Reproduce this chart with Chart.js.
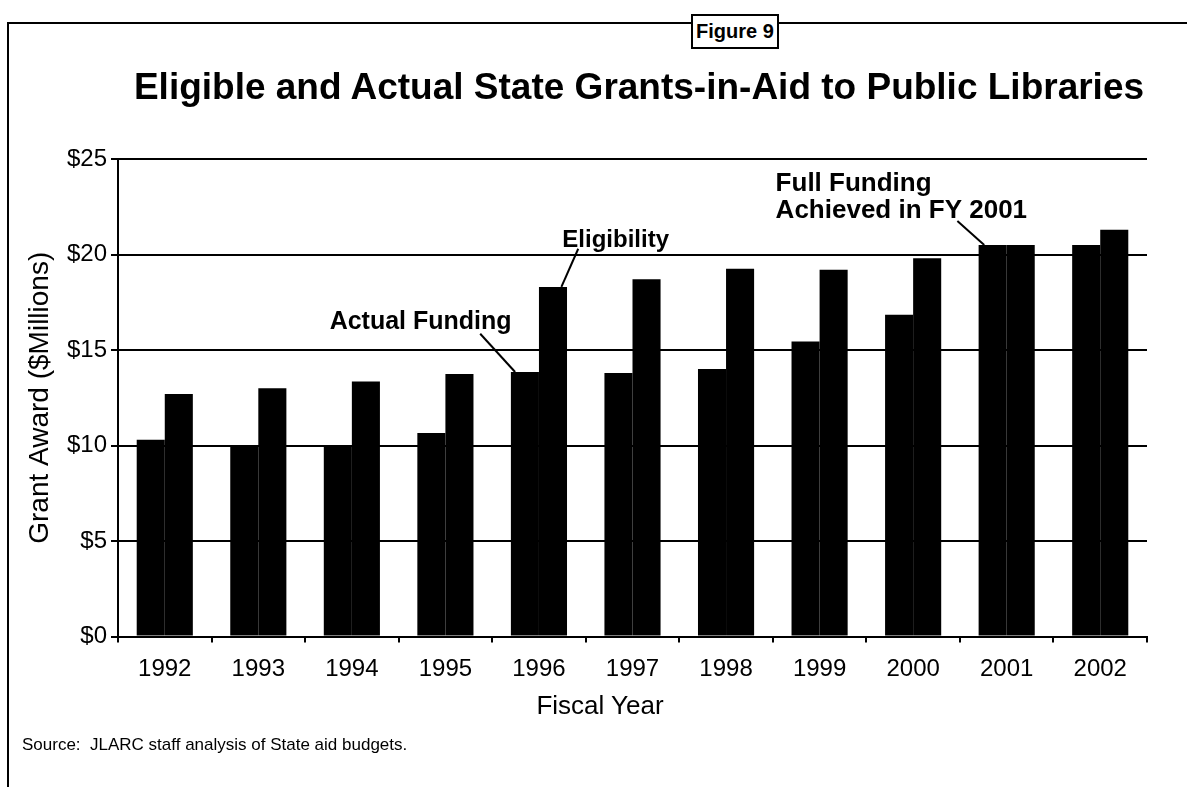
<!DOCTYPE html>
<html>
<head>
<meta charset="utf-8">
<script src="https://cdn.jsdelivr.net/npm/chart.js@4.4.1/dist/chart.umd.min.js"></script>
<style>
  html, body { margin: 0; padding: 0; background: #fff; }
  #wrap { position: relative; width: 1187px; height: 787px; overflow: hidden; font-family: "Liberation Sans", Arial, Helvetica, sans-serif; color: #000; }
  #frameTop { position: absolute; left: 7px; top: 22px; width: 1180px; height: 2px; background: #000; }
  #frameLeft { position: absolute; left: 7px; top: 22px; width: 2px; height: 765px; background: #000; }
  #figbox { position: absolute; left: 691px; top: 14px; height: 31px; padding: 0 3px; border: 2px solid #000; background: #fff; font-weight: bold; font-size: 20px; line-height: 31px; white-space: nowrap; }
  #title { position: absolute; left: 0; width: 1278px; top: 65px; text-align: center; font-weight: bold; font-size: 37px; line-height: 44px; white-space: nowrap; }
  #xtitle { position: absolute; left: 0; width: 1200px; top: 690px; text-align: center; font-size: 26px; line-height: 30px; white-space: nowrap; }
  #source { position: absolute; left: 22px; top: 734px; font-size: 17px; line-height: 22px; white-space: nowrap; }
  canvas { position: absolute; left: 0; top: 0; }
</style>
</head>
<body>
<div id="wrap">
  <canvas id="c" width="1187" height="787"></canvas>
  <div id="frameTop"></div>
  <div id="frameLeft"></div>
  <div id="figbox">Figure 9</div>
  <div id="title">Eligible and Actual State Grants-in-Aid to Public Libraries</div>
  <div id="xtitle">Fiscal Year</div>
  <div id="source">Source:&nbsp; JLARC staff analysis of State aid budgets.</div>
</div>
<script>
// ---- Data ----
const years = ["1992","1993","1994","1995","1996","1997","1998","1999","2000","2001","2002"];
const actualFunding = [10.3, 10.0, 10.0, 10.65, 13.85, 13.8, 14.0, 15.45, 16.85, 20.5, 20.5];
const eligibility   = [12.7, 13.0, 13.35, 13.75, 18.3, 18.7, 19.25, 19.2, 19.8, 20.5, 21.3];
const yTicks = [0, 5, 10, 15, 20, 25];

// Annotation definitions in data terms (category index, value)
const annotations = [
  { lines: ["Actual Funding"], align: "center", cat: 2.735, val: 16.45, size: 25,
    from: { cat: 3.372, val: 15.85 }, toDataset: 0, toIndex: 4, toShift: -0.35 },
  { lines: ["Eligibility"], align: "center", cat: 4.82, val: 20.75, size: 24,
    from: { cat: 4.42, val: 20.3 }, toDataset: 1, toIndex: 4, toShift: 0.3 },
  { lines: ["Full Funding", "Achieved in FY 2001"], align: "left", cat: 6.53, val: 23.7, lineStep: 1.4, size: 26,
    from: { cat: 8.473, val: 21.75 }, toDataset: 0, toIndex: 9, toShift: -0.3 }
];

const FONT = "'Liberation Sans', Arial, Helvetica, sans-serif";

const annotationPlugin = {
  id: 'annot',
  afterDatasetsDraw(chart) {
    const ctx = chart.ctx;
    const xs = chart.scales.x, ys = chart.scales.y;
    const catW = xs.getPixelForValue(1) - xs.getPixelForValue(0);
    const px = c => xs.getPixelForValue(0) + c * catW;
    ctx.save();
    ctx.fillStyle = '#000';
    ctx.strokeStyle = '#000';
    ctx.lineWidth = 2;
    ctx.textBaseline = 'middle';
    annotations.forEach(a => {
      ctx.font = "bold " + a.size + "px " + FONT;
      ctx.textAlign = a.align;
      a.lines.forEach((t, i) => {
        const v = a.val - i * (a.lineStep || 0);
        ctx.fillText(t, px(a.cat), ys.getPixelForValue(v));
      });
      const bar = chart.getDatasetMeta(a.toDataset).data[a.toIndex];
      const ex = bar.x + a.toShift * bar.width;
      const ey = bar.y;
      ctx.beginPath();
      ctx.moveTo(px(a.from.cat), ys.getPixelForValue(a.from.val));
      ctx.lineTo(ex, ey);
      ctx.stroke();
    });
    ctx.restore();
  }
};

new Chart(document.getElementById('c'), {
  type: 'bar',
  data: {
    labels: years,
    datasets: [
      { label: 'Actual Funding', data: actualFunding, backgroundColor: '#000', borderWidth: 0 },
      { label: 'Eligibility', data: eligibility, backgroundColor: '#000', borderWidth: 0 }
    ]
  },
  options: {
    responsive: false,
    animation: false,
    devicePixelRatio: 1,
    layout: { padding: { top: 159, left: 0, right: 40, bottom: 66 } },
    datasets: { bar: { categoryPercentage: 0.6, barPercentage: 1.0 } },
    plugins: {
      legend: { display: false },
      tooltip: { enabled: false },
      title: { display: false }
    },
    scales: {
      x: {
        grid: { display: true, drawOnChartArea: false, drawTicks: true, tickLength: 6, color: '#000', lineWidth: 2, offset: true },
        border: { display: true, color: '#000', width: 2 },
        ticks: { color: '#000', font: { family: FONT, size: 24 }, padding: 12, maxRotation: 0 },
        title: { display: false },
        afterFit(scale) { scale.height = 84.5; }
      },
      y: {
        min: 0, max: 25,
        afterBuildTicks(scale) { scale.ticks = yTicks.map(v => ({ value: v })); },
        grid: { color: '#000', lineWidth: 2, drawTicks: true, tickLength: 7 },
        border: { display: true, color: '#000', width: 2 },
        ticks: { color: '#000', font: { family: FONT, size: 24 }, padding: 4, callback: v => '$' + v },
        title: { display: true, text: 'Grant Award ($Millions)', color: '#000', font: { family: FONT, size: 28 }, padding: { top: 23, bottom: 0 } },
        afterFit(scale) { scale.width = 118; }
      }
    }
  },
  plugins: [annotationPlugin]
});
</script>
</body>
</html>
